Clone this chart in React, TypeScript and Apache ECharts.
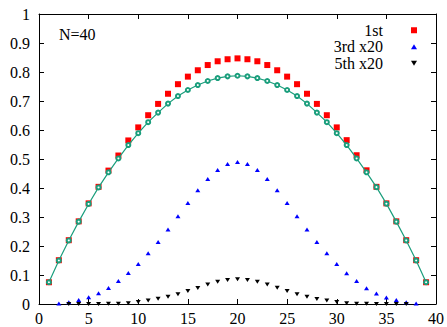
import React, { useEffect, useRef } from "react";
import * as echarts from "echarts";

// x positions (site index)
const xFirst = [1,2,3,4,5,6,7,8,9,10,11,12,13,14,15,16,17,18,19,20,21,22,23,24,25,26,27,28,29,30,31,32,33,34,35,36,37,38,39];
const firstVals = [0.075,0.151,0.220,0.285,0.347,0.404,0.460,0.512,0.564,0.609,0.651,0.690,0.725,0.758,0.784,0.806,0.824,0.837,0.844,0.847,0.844,0.837,0.824,0.806,0.784,0.758,0.725,0.690,0.651,0.609,0.565,0.513,0.461,0.404,0.347,0.285,0.220,0.151,0.075];
const curveVals = [0.075,0.150,0.219,0.284,0.345,0.402,0.454,0.502,0.548,0.589,0.627,0.660,0.691,0.717,0.738,0.755,0.769,0.779,0.785,0.787,0.785,0.779,0.769,0.755,0.738,0.717,0.691,0.660,0.627,0.589,0.548,0.502,0.454,0.403,0.346,0.284,0.219,0.150,0.075];
const xThird = [2,3,4,5,6,7,8,9,10,11,12,13,14,15,16,17,18,19,20,21,22,23,24,25,26,27,28,29,30,31,32,33,34,35,36,37,38];
const thirdVals = [0.002,0.006,0.014,0.023,0.037,0.055,0.079,0.107,0.138,0.175,0.214,0.257,0.303,0.348,0.392,0.431,0.462,0.483,0.490,0.483,0.462,0.431,0.392,0.348,0.303,0.257,0.214,0.175,0.138,0.106,0.079,0.054,0.036,0.022,0.014,0.006,0.002];
const xFifth = [3,4,5,6,7,8,9,10,11,12,13,14,15,16,17,18,19,20,21,22,23,24,25,26,27,28,29,30,31,32,33,34,35,36,37];
const fifthVals = [0.000,0.000,0.000,0.000,0.001,0.001,0.003,0.007,0.012,0.018,0.025,0.034,0.045,0.055,0.067,0.077,0.083,0.085,0.083,0.077,0.067,0.056,0.045,0.034,0.025,0.017,0.012,0.007,0.003,0.001,0.001,0.000,0.000,0.000,0.000];
const legendNames = ["1st", "3rd x20", "5th x20"];
const annotation = "N=40";

const FONT = "Liberation Serif";

export default function App() {
  const ref = useRef<HTMLDivElement>(null);
  useEffect(() => {
    document.body.style.margin = "0";
    const chart = echarts.init(ref.current!, null, { renderer: "svg" });
    const pairs = (xs: number[], ys: number[]) => xs.map((x, i) => [x, ys[i]]);
    const axisCommon = {
      axisLine: { show: true, onZero: false, lineStyle: { color: "#000", width: 1 } },
      axisTick: { show: true, inside: true, length: 5, lineStyle: { color: "#000" } },
      splitLine: { show: false },
    };
    chart.setOption({
      animation: false,
      backgroundColor: "#fff",
      grid: { left: 39, right: 11, top: 14, bottom: 23, containLabel: false },
      xAxis: [
        {
          type: "value", min: 0, max: 40, interval: 5, position: "bottom",
          ...axisCommon,
          axisLabel: { color: "#000", fontFamily: FONT, fontSize: 16, margin: 6 },
        },
        {
          type: "value", min: 0, max: 40, interval: 5, position: "top",
          ...axisCommon,
          axisLabel: { show: false },
        },
      ],
      yAxis: [
        {
          type: "value", min: 0, max: 1, interval: 0.1, position: "left",
          ...axisCommon,
          axisLabel: { color: "#000", fontFamily: FONT, fontSize: 16, margin: 9 },
        },
        {
          type: "value", min: 0, max: 1, interval: 0.1, position: "right",
          ...axisCommon,
          axisLabel: { show: false },
        },
      ],
      legend: {
        orient: "vertical",
        right: 30,
        top: 22,
        padding: 0,
        itemGap: 0,
        align: "right",
        itemWidth: 6,
        itemHeight: 6,
        textStyle: { color: "#000", fontFamily: FONT, fontSize: 16, lineHeight: 16.5, padding: [0, 23, 0, 0] },
        data: [
          { name: legendNames[0], icon: "rect" },
          { name: legendNames[1], icon: "path://M5,0L10,8L0,8Z" },
          { name: legendNames[2], icon: "path://M0,0L10,0L5,8Z" },
        ],
      },
      graphic: [
        {
          type: "text",
          left: 59,
          top: 26,
          style: { text: annotation, fill: "#000", font: `16px "${FONT}"` },
        },
      ],
      series: [
        {
          name: legendNames[0], type: "scatter", symbol: "rect", symbolSize: 6,
          itemStyle: { color: "#ff0000", opacity: 1 },
          data: pairs(xFirst, firstVals),
        },
        {
          name: legendNames[1], type: "scatter", symbol: "triangle", symbolSize: [5, 4],
          itemStyle: { color: "#0000ff", opacity: 1 },
          data: pairs(xThird, thirdVals),
        },
        {
          name: legendNames[2], type: "scatter", symbol: "triangle", symbolRotate: 180, symbolSize: [5, 4],
          itemStyle: { color: "#000000", opacity: 1 },
          data: pairs(xFifth, fifthVals),
        },
        {
          name: "curve", type: "line", symbol: "emptyCircle", symbolSize: 4,
          lineStyle: { color: "#1a9e7c", width: 1.2 },
          itemStyle: { color: "#1a9e7c", borderColor: "#1a9e7c", borderWidth: 1 },
          data: pairs(xFirst, curveVals),
        },
      ],
    });
    return () => chart.dispose();
  }, []);
  return <div ref={ref} style={{ width: 447, height: 327 }} />;
}
